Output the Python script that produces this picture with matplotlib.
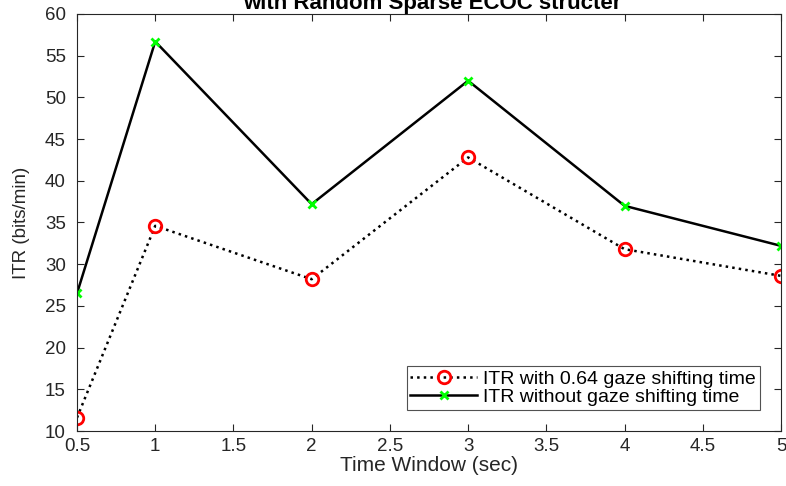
import matplotlib
matplotlib.use("Agg")
import matplotlib.pyplot as plt

plt.rcParams['font.family'] = ['Liberation Sans', 'DejaVu Sans']

time_window = [0.5, 1, 2, 3, 4, 5]
itr_with_gaze = [11.6, 34.6, 28.2, 42.8, 31.8, 28.6]
itr_without_gaze = [26.5, 56.7, 37.2, 52.0, 37.0, 32.2]
xticks = [0.5, 1, 1.5, 2, 2.5, 3, 3.5, 4, 4.5, 5]
xticklabels = ['0.5', '1', '1.5', '2', '2.5', '3', '3.5', '4', '4.5', '5']
yticks = [10, 15, 20, 25, 30, 35, 40, 45, 50, 55, 60]

fig = plt.figure(figsize=(7.86, 4.86), dpi=100)
ax = fig.add_axes([77/786, 55/486, 704/786, 417/486])

ax.plot(time_window, itr_with_gaze, linestyle=':', color='black', linewidth=1.8,
        marker='o', markersize=9, markerfacecolor='none', markeredgecolor='red',
        markeredgewidth=2, label='ITR with 0.64 gaze shifting time')
ax.plot(time_window, itr_without_gaze, linestyle='-', color='black', linewidth=1.8,
        marker='x', markersize=6, markeredgecolor=(0, 1, 0),
        markeredgewidth=2, label='ITR without gaze shifting time')

ax.set_xlim(0.5, 5)
ax.set_ylim(10, 60)
ax.set_xticks(xticks)
ax.set_xticklabels(xticklabels)
ax.set_yticks(yticks)
axcol = (0.15, 0.15, 0.15)
for s in ax.spines.values():
    s.set_color(axcol)
    s.set_linewidth(0.8)
ax.tick_params(direction='in', top=True, right=True, length=5, width=0.8,
               colors=axcol, labelsize=13.5, labelcolor=axcol)
ax.tick_params(axis='y', pad=8)
ax.tick_params(axis='x', pad=5)
ax.set_xlabel('Time Window (sec)', fontsize=15, color=axcol, labelpad=1)
ax.set_ylabel('ITR (bits/min)', fontsize=13.5, color=axcol, labelpad=11)

fig.text(432, 486 - 9, 'with Random Sparse ECOC structer', transform=None,
         ha='center', va='baseline', fontsize=16, fontweight='bold', color='black')

leg = ax.legend(loc='lower right', bbox_to_anchor=(760/786, 76/486), bbox_transform=fig.transFigure,
                fontsize=14, frameon=True, fancybox=False, handlelength=3.4,
                borderpad=0.2, labelspacing=0.05, handletextpad=0.35, borderaxespad=0)
leg.get_frame().set_edgecolor(axcol)
leg.get_frame().set_linewidth(0.8)

fig.savefig('out.png', dpi=100)
